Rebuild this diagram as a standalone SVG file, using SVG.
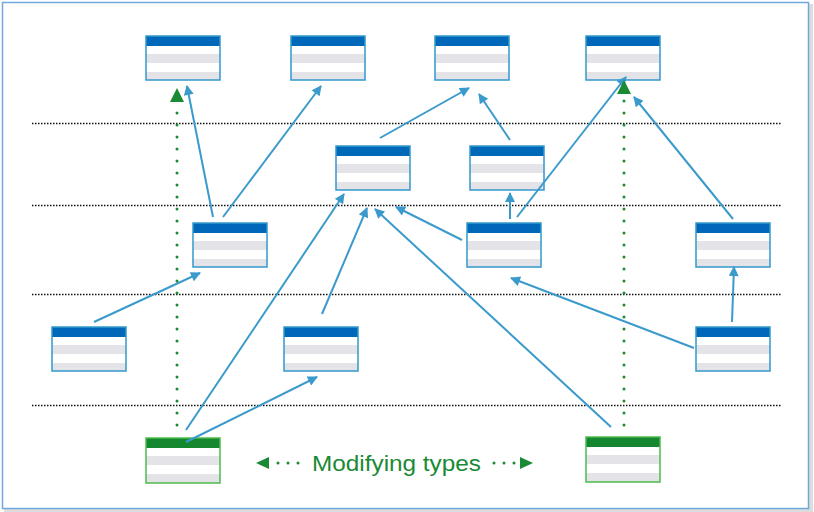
<svg xmlns="http://www.w3.org/2000/svg" width="814" height="512" viewBox="0 0 814 512">
<defs>
<style>
.frame{fill:#ffffff;stroke:#6fa8dc;stroke-width:1.5}
.sep{stroke:#111;stroke-width:1.3;stroke-dasharray:1.5 1.5;fill:none}
.row{fill:#e4e4e8}
.hb{fill:#0068b8}
.hg{fill:#15872e}
.bb{fill:none;stroke:#3399cc;stroke-width:1.5}
.bg{fill:none;stroke:#4cbb4c;stroke-width:1.5}
.ar{stroke:#3b9acc;stroke-width:2;fill:none;marker-end:url(#ab)}
.gd{stroke:#1a8a34;stroke-width:3;stroke-linecap:round;stroke-dasharray:0 12;fill:none}
.lbl{font-family:"Liberation Sans",Arial,sans-serif;font-size:22px;fill:#1a8a34}
</style>
<marker id="ab" viewBox="0 0 10 10" refX="9" refY="5" markerWidth="12" markerHeight="10" markerUnits="userSpaceOnUse" orient="auto">
<path d="M0,0 L10,5 L0,10 z" fill="#3b9acc"/>
</marker>
<g id="tbl">
<rect x="0" y="0" width="74" height="44" fill="#fff"/>
<rect x="0" y="0" width="74" height="10" class="hb"/>
<rect x="0" y="18" width="74" height="9" class="row"/>
<rect x="0" y="36" width="74" height="8" class="row"/>
<rect x="0" y="0" width="74" height="44" class="bb"/>
</g>
<g id="tblg">
<rect x="0" y="0" width="74" height="45" fill="#fff"/>
<rect x="0" y="0" width="74" height="10" class="hg"/>
<rect x="0" y="18" width="74" height="9" class="row"/>
<rect x="0" y="36" width="74" height="9" class="row"/>
<rect x="0" y="0" width="74" height="45" class="bg"/>
</g>
</defs>
<rect x="4" y="4" width="809" height="508" fill="#dcdcdc"/>
<rect x="2.5" y="2.5" width="806" height="506" class="frame"/>
<g id="separators">
<line x1="32" y1="123.5" x2="781" y2="123.5" class="sep"/>
<line x1="32" y1="205.5" x2="781" y2="205.5" class="sep"/>
<line x1="32" y1="294.5" x2="781" y2="294.5" class="sep"/>
<line x1="32" y1="405.5" x2="781" y2="405.5" class="sep"/>
</g>
<g id="n1"><use href="#tbl" x="146" y="36"/></g>
<g id="n2"><use href="#tbl" x="291" y="36"/></g>
<g id="n3"><use href="#tbl" x="435" y="36"/></g>
<g id="n4"><use href="#tbl" x="586" y="36"/></g>
<g id="n5"><use href="#tbl" x="336" y="146"/></g>
<g id="n6"><use href="#tbl" x="470" y="146"/></g>
<g id="n7"><use href="#tbl" x="193" y="223"/></g>
<g id="n8"><use href="#tbl" x="467" y="223"/></g>
<g id="n9"><use href="#tbl" x="696" y="223"/></g>
<g id="n10"><use href="#tbl" x="52" y="327"/></g>
<g id="n11"><use href="#tbl" x="284" y="327"/></g>
<g id="n12"><use href="#tbl" x="696" y="327"/></g>
<g id="g1"><use href="#tblg" x="146" y="438"/></g>
<g id="g2"><use href="#tblg" x="586" y="437"/></g>
<g id="connectors">
<line x1="213" y1="217" x2="187" y2="86" class="ar"/>
<line x1="223" y1="217" x2="321" y2="86" class="ar"/>
<line x1="380" y1="138" x2="469" y2="88" class="ar"/>
<line x1="510" y1="140" x2="479" y2="94" class="ar"/>
<line x1="517" y1="217" x2="626" y2="77" class="ar"/>
<line x1="733" y1="219" x2="634" y2="97" class="ar"/>
<line x1="510" y1="219" x2="510" y2="193" class="ar"/>
<line x1="462" y1="240" x2="396" y2="207" class="ar"/>
<line x1="94" y1="322" x2="200" y2="273" class="ar"/>
<line x1="322" y1="314" x2="367" y2="208" class="ar"/>
<line x1="186" y1="430" x2="344" y2="194" class="ar"/>
<line x1="186" y1="442" x2="317" y2="377" class="ar"/>
<line x1="611" y1="427" x2="375" y2="209" class="ar"/>
<line x1="694" y1="348" x2="511" y2="278" class="ar"/>
<line x1="732" y1="322" x2="734" y2="267" class="ar"/>
<line x1="177" y1="425" x2="177" y2="102" class="gd"/>
<path d="M170,102 L177,88 L184,102 z" fill="#1a8a34"/>
<line x1="624" y1="425" x2="624" y2="94" class="gd"/>
<path d="M617,94 L624,80 L631,94 z" fill="#1a8a34"/>
</g>
<g id="legend">
<path d="M256,463 L269,457 L269,469 z" fill="#1a8a34"/>
<line x1="278" y1="463" x2="300" y2="463" class="gd" style="stroke-dasharray:0 10"/>
<text x="312" y="471" class="lbl" font-size="23" textLength="169" lengthAdjust="spacingAndGlyphs">Modifying types</text>
<line x1="494" y1="463" x2="516" y2="463" class="gd" style="stroke-dasharray:0 10"/>
<path d="M533,463 L520,457 L520,469 z" fill="#1a8a34"/>
</g>
</svg>
